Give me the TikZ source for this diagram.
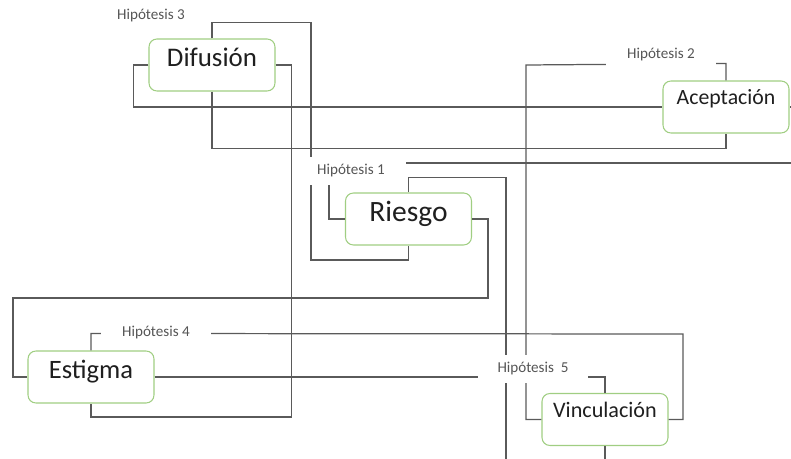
\documentclass[tikz,border=0pt]{standalone}
\usepackage{fontspec}
\setmainfont{Carlito}
\usetikzlibrary{positioning}

\definecolor{boxgreen}{RGB}{160,206,130}
\definecolor{linegray}{RGB}{90,90,90}
\definecolor{labelgray}{RGB}{85,85,85}

\tikzset{
	concept/.style={draw=boxgreen, line width=0.6pt, fill=white, rounded corners=4.5pt,
		minimum width=2.52cm, minimum height=1.04cm, inner sep=0pt, text=black!88, text height=0.7em},
	hyp/.style={fill=white, minimum width=2.2cm, minimum height=0.56cm, inner sep=0pt,
		text=labelgray, font=\fontsize{8.6pt}{10pt}\selectfont},
	link/.style={draw=linegray, line width=0.7pt}
}

\begin{document}
\begin{tikzpicture}[x=0.02cm, y=-0.02cm]
			\useasboundingbox (0,0) rectangle (791,459);
			\clip (0,0) rectangle (791,459);

			% concepts
			\node[concept, font=\fontsize{15.3pt}{18pt}\selectfont, text depth=0.54em] (dif) at (212,65){Difusión};
			\node[concept, font=\fontsize{12.4pt}{15pt}\selectfont, text depth=1.02em] (ace) at (726,107){Aceptación};
			\node[concept, font=\fontsize{16.8pt}{20pt}\selectfont, text depth=0.36em] (rie) at (408.5,219){Riesgo};
			\node[concept, font=\fontsize{15.1pt}{18pt}\selectfont, text depth=0.58em] (est) at (91,377){Estigma};
			\node[concept, font=\fontsize{12.6pt}{15pt}\selectfont, text depth=0.92em] (vin) at (605,419.5){Vinculación};

			% links
			\draw[link] (dif.north) -- ++(0,-16) -| (311,260) -| (rie.south);
			\draw[link] (dif.west) -- ++(-15,0) |- (ace.west);
			\draw[link] (dif.south) -- ++(0,57) -| (ace.south);
			\draw[link] (dif.east) -- ++(16,0) -- ++(0,352) -| (est.south);
			\draw[link] (rie.east) -- ++(16,0) |- (13,298) |- (est.west);
			\draw[link] (rie.west) -| (329,163) -- (810,163) |- (ace.east);
			\draw[link] (rie.north) -- ++(0,-15) -| (506,480);
			\draw[link] (ace.north) -- ++(0,-17) -- (526,65) |- (vin.west);
			\draw[link] (est.north) -- ++(0,-17) -- (683,334) |- (vin.east);
			\draw[link] (est.east) -| (vin.north);
			\draw[link] (vin.south) -- ++(0,30);

			% hypotheses
			\node[hyp] (h3) at (151,16){Hipótesis 3};
			\node[hyp] (h2) at (661,55){Hipótesis 2};
			\node[hyp] (h1) at (351,171){Hipótesis 1};
			\node[hyp] (h4) at (156,333){Hipótesis 4};
			\node[hyp] (h5) at (533,369){Hipótesis\ \ 5};
\end{tikzpicture}
\end{document}
